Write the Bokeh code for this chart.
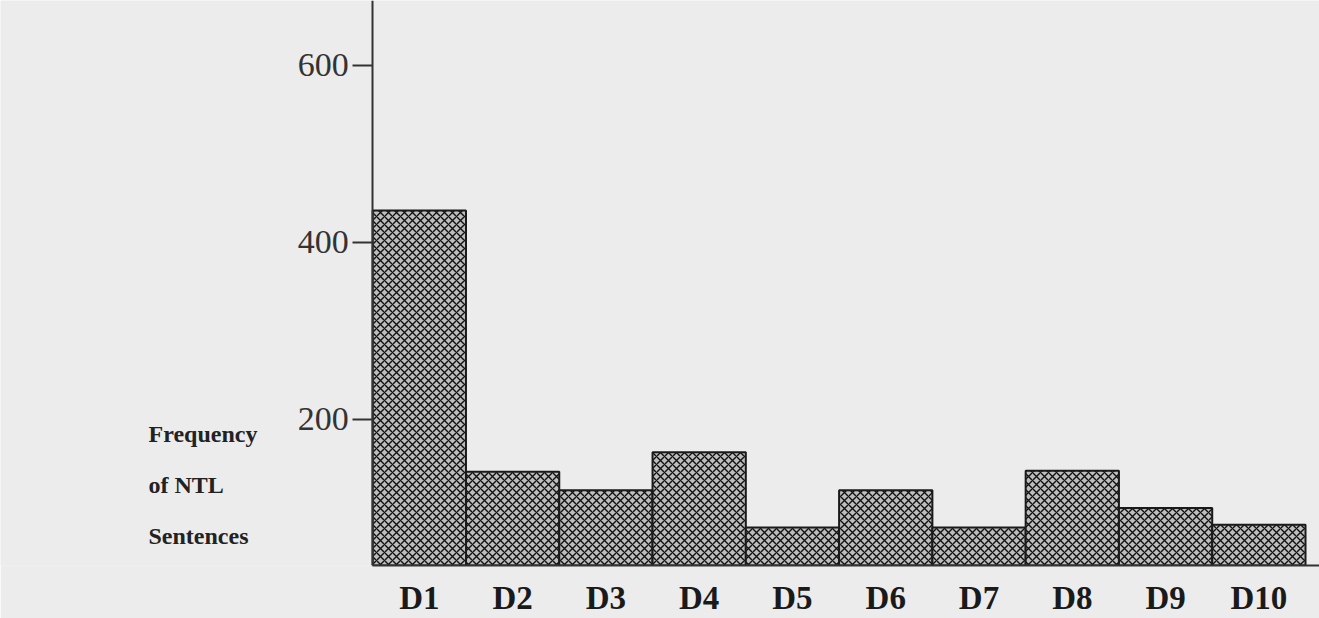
from bokeh.plotting import figure
from bokeh.models import Range1d, FixedTicker, Label
from bokeh.embed import file_html
from bokeh.resources import INLINE

categories = ["D1", "D2", "D3", "D4", "D5", "D6", "D7", "D8", "D9", "D10"]
frequency = [436, 141, 120, 163, 78, 120, 78, 142, 100, 81]
y_ticks = [200, 400, 600]

xs = [i + 0.5 for i in range(len(categories))]

p = figure(width=1319, height=618, output_backend="svg", toolbar_location=None,
           x_range=Range1d(-3.99, 10.15), y_range=Range1d(35, 673),
           min_border_left=0, min_border_right=0, min_border_top=0, min_border_bottom=48)
p.background_fill_color = "#ececec"
p.border_fill_color = "#ececec"
p.outline_line_color = None
p.grid.visible = False

p.vbar(x=xs, top=frequency, bottom=0, width=1.0,
       fill_color="#bdbdbd", line_color="#1a1a1a", line_width=2,
       hatch_pattern="diagonal_cross", hatch_color="#111111", hatch_scale=8, hatch_weight=1.4)

p.xaxis.ticker = FixedTicker(ticks=xs)
p.xaxis.bounds = (0, 10.15)
p.xaxis.major_label_overrides = {x: c for x, c in zip(xs, categories)}
p.xaxis.major_tick_line_color = None
p.xaxis.minor_tick_line_color = None
p.xaxis.axis_line_width = 2
p.xaxis.axis_line_color = "#333333"
p.xaxis.major_label_text_font = "Liberation Serif"
p.xaxis.major_label_text_font_style = "bold"
p.xaxis.major_label_text_font_size = "33px"
p.xaxis.major_label_text_color = "#1a1a1a"
p.xaxis.major_label_standoff = 8

p.yaxis.fixed_location = 0
p.yaxis.ticker = FixedTicker(ticks=y_ticks)
p.yaxis.minor_tick_line_color = None
p.yaxis.major_tick_in = 0
p.yaxis.major_tick_out = 20
p.yaxis.major_tick_line_width = 2
p.yaxis.major_tick_line_color = "#333333"
p.yaxis.axis_line_width = 2
p.yaxis.axis_line_color = "#333333"
p.yaxis.major_label_text_font = "Liberation Serif"
p.yaxis.major_label_text_font_size = "34px"
p.yaxis.major_label_text_color = "#333333"
p.yaxis.major_label_standoff = 4

for i, line in enumerate(["Frequency", "of NTL", "Sentences"]):
    p.add_layout(Label(x=148, y=132 - i * 51, x_units="screen", y_units="screen",
                       text=line, text_font="Liberation Serif", text_font_style="bold",
                       text_font_size="24px", text_color="#222222",
                       text_baseline="middle", text_align="left"))

open("out.html", "w").write(file_html(p, INLINE))
